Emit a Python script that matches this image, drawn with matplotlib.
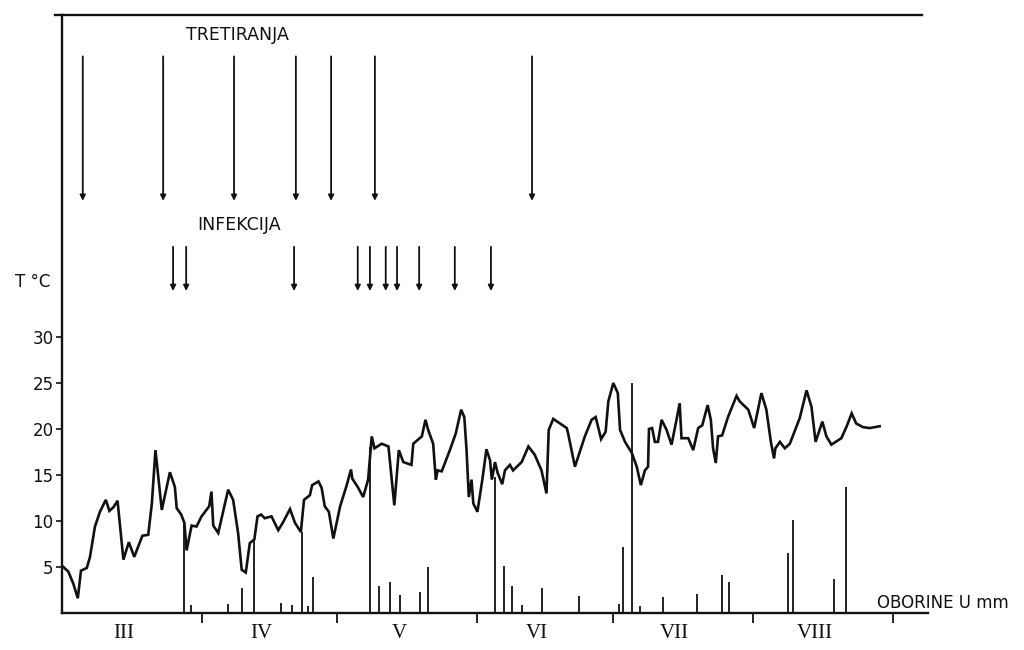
import matplotlib
matplotlib.use("Agg")
import matplotlib.pyplot as plt
import numpy as np

# temperatura (dani od 1. III, T u C)
temp_day = [0.3, 1.4, 2.5, 3.5, 4.2, 5.5, 6.2, 7.3, 8.4, 9.7, 10.5, 11.4, 12.3, 13.6, 14.8,
            16.0, 17.8, 19.1, 19.9, 20.7, 22.1, 23.9, 25.0, 25.4, 26.4, 27.1, 27.6, 28.7,
            29.8, 30.9, 32.6, 33.1, 33.5, 34.6, 36.8, 37.9, 39.0, 39.8, 40.7, 41.6, 42.6,
            43.3, 44.1, 44.9, 46.4, 47.9, 49.0, 50.5, 51.6, 52.9, 53.6, 54.9, 55.4, 56.8,
            57.5, 58.2, 59.1, 60.1, 61.6, 63.0, 64.0, 64.3, 65.5, 66.7, 67.8, 68.6, 69.2,
            70.8, 72.3, 73.6, 74.6, 75.6, 77.4, 77.8, 79.7, 80.5, 81.1, 82.2, 82.8, 83.2,
            84.1, 85.9, 87.2, 88.4, 89.1, 89.6, 90.1, 90.7, 91.1, 92.0, 93.1, 94.0, 94.8,
            95.2, 95.9, 96.5, 97.5, 98.1, 99.2, 99.9, 101.8, 103.3, 104.7, 106.2, 107.3,
            107.8, 108.8, 111.8, 112.1, 113.6, 115.8, 117.3, 118.2, 119.4, 120.4, 121.0,
            122.1, 123.1, 123.6, 124.7, 126.2, 127.3, 128.2, 129.1, 129.8, 130.0, 130.7,
            131.3, 132.0, 132.8, 133.9, 135.0, 136.1, 136.8, 137.2, 138.7, 139.8, 140.9,
            141.8, 143.0, 143.7, 144.2, 144.8, 145.3, 146.2, 147.5, 149.4, 150.1, 152.0,
            153.3, 154.9, 156.0, 157.0, 157.7, 158.0, 159.0, 160.1, 161.2, 163.4, 164.9,
            166.0, 166.9, 168.4, 169.3, 170.4, 172.6, 173.8, 174.9, 175.9, 177.4, 178.9,
            181.1]
temp_val = [5.0, 4.5, 3.2, 1.6, 4.6, 4.9, 6.1, 9.4, 11.0, 12.3, 11.1, 11.5, 12.2, 5.8, 7.7,
            6.1, 8.4, 8.5, 11.9, 17.7, 11.2, 15.3, 13.7, 11.4, 10.7, 9.8, 6.8, 9.5,
            9.4, 10.5, 11.6, 13.2, 9.5, 8.7, 13.4, 12.3, 8.7, 4.7, 4.4, 7.6, 8.0,
            10.5, 10.7, 10.3, 10.5, 9.0, 9.9, 11.3, 9.8, 8.8, 12.3, 12.8, 13.9, 14.3,
            13.6, 11.6, 11.0, 8.1, 11.6, 13.8, 15.6, 14.6, 13.7, 12.6, 14.5, 19.2, 17.9,
            18.4, 18.1, 11.7, 17.7, 16.4, 16.1, 18.4, 19.2, 21.0, 19.9, 18.4, 14.5, 15.5,
            15.4, 17.7, 19.5, 22.1, 21.3, 17.7, 12.6, 14.5, 11.9, 11.0, 14.5, 17.8, 16.6,
            14.5, 16.4, 15.2, 14.0, 15.5, 16.1, 15.5, 16.4, 18.1, 17.2, 15.5, 13.0,
            19.9, 21.1, 20.1, 19.5, 15.9, 19.2, 21.0, 21.3, 18.9, 19.7, 23.0,
            25.0, 23.9, 19.9, 18.6, 17.4, 15.9, 13.9, 15.5, 15.9, 20.0, 20.1,
            18.6, 18.6, 21.0, 19.9, 18.3, 21.0, 22.8, 19.0, 19.0, 17.7, 20.1,
            20.4, 22.6, 21.0, 17.9, 16.3, 19.2, 19.3, 21.3, 23.6, 23.0, 22.1,
            20.1, 23.9, 22.1, 18.6, 16.8, 17.9, 18.6, 17.9, 18.4, 21.2, 24.2,
            22.4, 18.6, 20.8, 19.2, 18.3, 19.0, 20.3, 21.7, 20.6, 20.2, 20.1,
            20.3]

# oborine u mm
rain_day = [27.1, 28.6, 36.7, 39.9, 42.6, 48.6, 50.9, 53.2, 54.4, 55.6, 68.2, 70.1, 72.6,
            74.8, 79.3, 81.1, 95.9, 97.9, 99.7, 101.8, 106.4, 114.5, 123.3, 124.3, 126.2,
            128.0, 133.2, 140.7, 146.1, 147.8, 160.8, 161.9, 170.9, 173.6]
rain_mm = [9.8, 0.9, 1.0, 2.7, 8.0, 1.1, 0.9, 8.8, 0.8, 3.9, 18.0, 2.9, 3.4,
           2.0, 2.3, 5.0, 14.8, 5.1, 2.9, 0.9, 2.7, 1.8, 1.0, 7.2, 25.0,
           0.8, 1.7, 2.1, 4.1, 3.4, 6.5, 10.1, 3.7, 13.7]

tretiranja = [4.6, 22.4, 38.1, 51.8, 59.6, 69.3, 104.1]
infekcija = [24.6, 27.5, 51.4, 65.5, 68.2, 71.7, 74.2, 79.1, 87.0, 95.0]

months = ["III", "IV", "V", "VI", "VII", "VIII"]
month_len = [31, 30, 31, 30, 31, 31]
y_ticks = [5, 10, 15, 20, 25, 30]

ink = "#111111"
lab = dict(family="DejaVu Sans", color=ink)

fig = plt.figure(figsize=(10.24, 6.5), dpi=100)
ax = fig.add_axes([62 / 1024, 37 / 650, 866 / 1024, 598 / 650])
ax.set_xlim(0, 191.8)
ax.set_ylim(0, 65)

ax.plot(temp_day, temp_val, color=ink, lw=1.9, solid_joinstyle="miter")
ax.vlines(rain_day, 0, rain_mm, color=ink, lw=1.3)

for d in tretiranja:
    ax.annotate("", xy=(d, 44.8), xytext=(d, 60.5),
                arrowprops=dict(arrowstyle="-|>", color=ink, lw=1.3,
                                mutation_scale=8, shrinkA=0, shrinkB=0))
for d in infekcija:
    ax.annotate("", xy=(d, 35.0), xytext=(d, 39.8),
                arrowprops=dict(arrowstyle="-|>", color=ink, lw=1.3,
                                mutation_scale=8, shrinkA=0, shrinkB=0))

ax.text(38.8, 62.8, "TRETIRANJA", ha="center", va="center", fontsize=12.5, **lab)
ax.text(39.2, 42.2, "INFEKCIJA", ha="center", va="center", fontsize=12.5, **lab)
ax.text(-6.6, 36.0, "T °C", ha="center", va="center", fontsize=12, **lab)
ax.text(180.5, 1.1, "OBORINE U mm", ha="left", va="center", fontsize=12,
        clip_on=False, **lab)

# osi
for s in ["left", "bottom", "top"]:
    ax.spines[s].set_linewidth(1.7)
    ax.spines[s].set_color(ink)
ax.spines["right"].set_visible(False)
ax.spines["top"].set_bounds(-1.5, 190.5)

ax.set_yticks(y_ticks)
ax.set_yticklabels([str(v) for v in y_ticks], fontsize=12, **lab)
ax.tick_params(axis="y", direction="out", length=4, width=1.2, pad=2, colors=ink)

bounds = np.cumsum(month_len)
starts = bounds - np.array(month_len)
ax.set_xticks(bounds)
ax.set_xticklabels([])
ax.tick_params(axis="x", which="major", direction="out", length=7, width=1.3, colors=ink)
ax.set_xticks(starts + np.array(month_len) / 2 - 1.8, minor=True)
ax.set_xticklabels(months, minor=True, fontsize=15, family="Liberation Serif", color=ink)
ax.tick_params(axis="x", which="minor", length=0, pad=8)

fig.savefig("out.png", dpi=100)
